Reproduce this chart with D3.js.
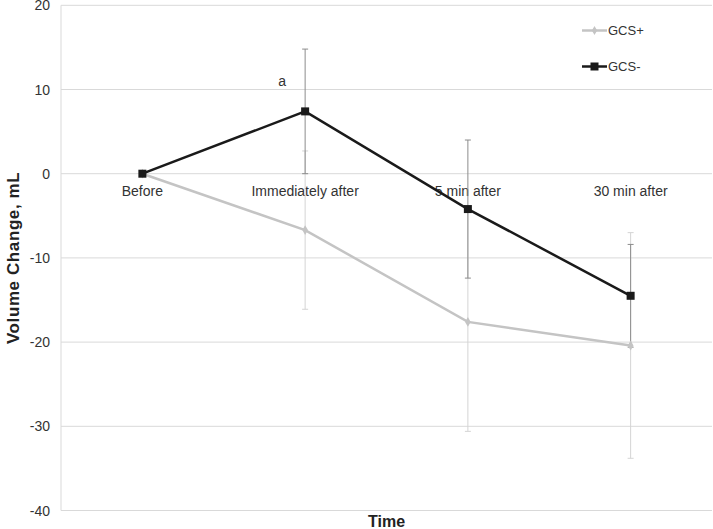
<!DOCTYPE html>
<html><head><meta charset="utf-8">
<script src="https://cdn.jsdelivr.net/npm/d3@7"></script>
<style>body{margin:0;background:#fff}svg{display:block;font-family:"Liberation Sans",Arial,sans-serif}</style>
</head><body><svg id="c" width="713" height="529"></svg>
<script>
const categories = ["Before", "Immediately after", "5 min after", "30 min after"];
const gcsPlus = [0, -6.7, -17.6, -20.4];
const gcsPlusErr = [0, 9.4, 13.0, 13.4];
const gcsMinus = [0, 7.4, -4.2, -14.5];
const gcsMinusErr = [0, 7.4, 8.2, 6.1];
const yTicks = [20, 10, 0, -10, -20, -30, -40];
const seriesNames = ["GCS+", "GCS-"];

(function () {
const svg = d3.select("#c");
const mL = 61, mR = 712, mT = 5.3, mB = 510.5;
const x = d3.scaleBand().domain(categories).range([mL, mR]);
const y = d3.scaleLinear().domain([-40, 20]).range([mB, mT]);
const cx = c => x(c) + x.bandwidth() / 2;

// gridlines
svg.append("g").selectAll("line").data(yTicks).join("line")
  .attr("x1", mL).attr("x2", mR)
  .attr("y1", d => y(d)).attr("y2", d => y(d))
  .attr("stroke", "#d9d9d9").attr("stroke-width", 1);
svg.append("line").attr("x1", mL).attr("x2", mL).attr("y1", mT).attr("y2", mB)
  .attr("stroke", "#d9d9d9").attr("stroke-width", 1);

// y tick labels
svg.append("g").selectAll("text").data(yTicks).join("text")
  .attr("x", 50).attr("y", d => y(d)).attr("dy", "0.36em")
  .attr("text-anchor", "end").attr("font-size", 14).attr("fill", "#333")
  .text(d => d);

// category labels
svg.append("g").selectAll("text").data(categories).join("text")
  .attr("x", d => cx(d)).attr("y", y(0) + 22)
  .attr("text-anchor", "middle").attr("font-size", 14).attr("fill", "#333")
  .text(d => d);

// axis titles
svg.append("text").attr("transform", `translate(19,${(mT + mB) / 2}) rotate(-90)`)
  .attr("text-anchor", "middle").attr("font-size", 17).attr("letter-spacing", 0.6)
  .attr("font-weight", "bold").attr("fill", "#222")
  .text("Volume Change, mL");
svg.append("text").attr("x", (mL + mR) / 2).attr("y", 527)
  .attr("text-anchor", "middle").attr("font-size", 16).attr("font-weight", "bold").attr("fill", "#222")
  .text("Time");

function errBars(vals, errs, color) {
  const g = svg.append("g");
  categories.forEach((c, i) => {
    if (!errs[i]) return;
    const X = cx(c), t = y(vals[i] + errs[i]), b = y(vals[i] - errs[i]);
    g.append("line").attr("x1", X).attr("x2", X).attr("y1", t).attr("y2", b).attr("stroke", color).attr("stroke-width", 1);
    [t, b].forEach(yy => g.append("line").attr("x1", X - 3).attr("x2", X + 3).attr("y1", yy).attr("y2", yy).attr("stroke", color).attr("stroke-width", 1));
  });
}
errBars(gcsPlus, gcsPlusErr, "#d4d4d4");
errBars(gcsMinus, gcsMinusErr, "#8c8c8c");

const line = d3.line().x((d, i) => cx(categories[i])).y(d => y(d));
svg.append("path").datum(gcsPlus).attr("d", line).attr("fill", "none").attr("stroke", "#c4c4c4").attr("stroke-width", 2.5);
svg.append("g").selectAll("path").data(gcsPlus).join("path")
  .attr("d", d3.symbol(d3.symbolDiamond, 28))
  .attr("transform", (d, i) => `translate(${cx(categories[i])},${y(d)})`)
  .attr("fill", "#c4c4c4");

svg.append("path").datum(gcsMinus).attr("d", line).attr("fill", "none").attr("stroke", "#1a1a1a").attr("stroke-width", 2.5);
svg.append("g").selectAll("rect").data(gcsMinus).join("rect")
  .attr("x", (d, i) => cx(categories[i]) - 4).attr("y", d => y(d) - 4)
  .attr("width", 8).attr("height", 8).attr("fill", "#1a1a1a");

// annotation
svg.append("text").attr("x", cx(categories[1]) - 23).attr("y", 86)
  .attr("text-anchor", "middle").attr("font-size", 14).attr("fill", "#333").text("a");

// legend
const leg = svg.append("g");
const legColors = ["#c4c4c4", "#1a1a1a"];
seriesNames.forEach((n, i) => {
  const ly = 30.5 + i * 36;
  leg.append("line").attr("x1", 582).attr("x2", 607).attr("y1", ly).attr("y2", ly).attr("stroke", legColors[i]).attr("stroke-width", 2.5);
  if (i === 0) leg.append("path").attr("d", d3.symbol(d3.symbolDiamond, 24)).attr("transform", `translate(594.5,${ly})`).attr("fill", legColors[i]);
  else leg.append("rect").attr("x", 590.5).attr("y", ly - 4).attr("width", 8).attr("height", 8).attr("fill", legColors[i]);
  leg.append("text").attr("x", 608).attr("y", ly).attr("dy", "0.35em").attr("font-size", 13).attr("fill", "#333").text(n);
});
})();
</script></body></html>
